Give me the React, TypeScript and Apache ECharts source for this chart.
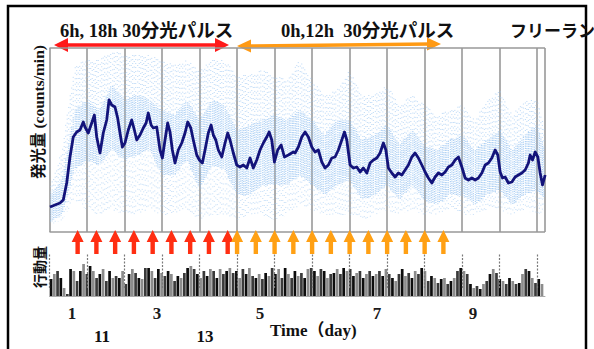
import React, { useEffect, useRef } from "react";
import * as echarts from "echarts";

// ---- Luminescence: smoothed trace (hours, relative counts) ----
const lineHours = [0.3, 3.5, 6.7, 8.8, 11, 13.1, 15.2, 17.4, 19.5, 21.6, 22.7, 24.8, 27, 28.7, 30.2, 32.3, 34.4, 36.6, 38.1, 39.8, 41.9, 43.6, 45.1, 46.6, 48.3, 50.4, 52.6, 54.3, 55.8, 57.9, 60, 61.8, 63.2, 65, 66.4, 68.6, 70.7, 72.2, 73.9, 75.6, 77.1, 78.6, 80.3, 82.4, 84.6, 86.7, 88.4, 90.4, 92, 94.2, 95.9, 97.8, 99.5, 101.6, 103.4, 104.8, 106.4, 108, 110.2, 112.3, 114, 115.5, 117.6, 119.8, 121.9, 124, 126.2, 128.3, 130.4, 132.6, 134.7, 136.8, 139, 140.5, 142.2, 143.9, 146, 148.2, 150.3, 152.8, 156];
const lineValues = [25, 27, 29, 32, 49, 75, 95, 100, 102, 110, 105, 99, 109, 117, 95, 79, 99, 112, 132, 127, 125, 114, 99, 85, 89, 102, 112, 102, 92, 97, 104, 109, 119, 107, 104, 105, 82, 74, 92, 109, 100, 82, 69, 82, 89, 99, 110, 104, 92, 77, 72, 69, 82, 99, 107, 97, 92, 82, 75, 89, 99, 92, 79, 67, 65, 67, 64, 74, 64, 72, 82, 89, 95, 100, 92, 70, 82, 87, 75, 77, 80];
const lineHours2 = [157.1, 159.2, 161.4, 163.5, 165.6, 167.8, 169.9, 172, 174.2, 176.3, 178.4, 180.6, 182.7, 184.8, 187, 188.7, 190.2, 192.3, 194.4, 196.6, 198.7, 200.8, 203, 205.1, 207.2, 209.4, 211.5, 213.6, 215.2, 216.8, 219, 221.1, 223.2, 225.4, 227.5, 229.6, 231.8, 233.9, 236, 238.2, 240.3, 242.4, 244.6, 246.7, 248.8, 251, 253.1, 255.2, 257.4, 259.5, 261.6, 263.8, 265.9, 268, 270.2, 272.3, 274.4, 276.6, 278.7, 280.8, 283, 285.1, 286.8, 288.3, 289.8, 291.5, 293.6, 295.8, 297.9, 300, 302.2, 304.3, 306.4, 307.5, 309, 310.7, 312.4, 313.9, 315.4, 317.1];
const lineValues2 = [79, 85, 95, 100, 95, 85, 80, 82, 70, 64, 67, 74, 75, 82, 92, 100, 92, 67, 64, 65, 60, 64, 59, 69, 72, 74, 79, 89, 82, 64, 59, 55, 59, 57, 62, 67, 75, 79, 74, 67, 60, 54, 49, 55, 59, 57, 60, 65, 67, 72, 75, 65, 54, 52, 54, 52, 54, 59, 67, 69, 74, 82, 77, 60, 54, 55, 49, 50, 55, 57, 59, 62, 69, 77, 72, 80, 75, 59, 47, 57];

// ---- Luminescence: raw-data cloud envelope, every 8 h ----
const cloudHours = [0, 8, 16, 24, 32, 40, 48, 56, 64, 72, 80, 88, 96, 104, 112, 120, 128, 136, 144, 152, 160, 168, 176, 184, 192, 200, 208, 216, 224, 232, 240, 248, 256, 264, 272, 280, 288, 296, 304, 312, 317];
const cloudDenseLow = [10, 17, 62, 72, 67, 82, 72, 77, 82, 57, 57, 72, 42, 67, 62, 37, 37, 47, 47, 47, 57, 47, 37, 47, 52, 32, 37, 47, 32, 47, 32, 27, 37, 37, 27, 37, 42, 27, 37, 42, 32];
const cloudDenseHigh = [37, 52, 122, 132, 122, 147, 132, 137, 132, 122, 117, 132, 112, 132, 127, 102, 107, 112, 117, 112, 122, 112, 97, 112, 112, 92, 97, 107, 87, 102, 87, 82, 92, 97, 82, 92, 102, 82, 97, 107, 82];
const cloudSparseLow = [7, 12, 32, 22, 17, 22, 17, 17, 22, 17, 17, 22, 12, 17, 17, 12, 17, 17, 12, 17, 27, 22, 17, 17, 17, 12, 17, 22, 17, 22, 17, 17, 22, 17, 17, 22, 22, 17, 22, 17, 22];
const cloudSparseHigh = [42, 82, 167, 172, 172, 182, 177, 177, 177, 172, 167, 172, 162, 172, 172, 157, 157, 162, 157, 152, 172, 152, 137, 142, 162, 137, 137, 147, 127, 137, 127, 117, 122, 127, 112, 132, 142, 117, 132, 132, 102];

// ---- Activity counts (bins from hour 1, every 2.08 h) ----
const activityA = [17, 22, 25, 18, 8, 2, 27, 25, 15, 25, 32, 22, 30, 25, 18, 22, 27, 15, 25, 18, 20, 18, 25, 12, 22, 27, 23, 18, 17, 28, 28, 25, 18, 27, 23, 20, 25, 22, 15, 20, 18, 23, 28, 30, 27, 22, 18, 25, 20];
const activityB = [27, 25, 18, 27, 22, 25, 28, 23, 25, 18, 27, 22, 28, 20, 18, 22, 17, 23, 20, 28, 22, 27, 18, 28, 22, 18, 25, 20, 23, 18, 27, 28, 25, 20, 27, 25, 18, 22, 23, 27, 22, 28, 25, 27, 20, 23, 25, 18, 22, 25, 20];
const activityC = [22, 25, 20, 27, 22, 18, 15, 22, 27, 20, 23, 18, 25, 22, 28, 25, 15, 20, 18, 13, 17, 18, 12, 15, 18, 25, 28, 25, 22, 12, 8, 10, 7, 12, 15, 22, 27, 23, 17, 15, 12, 18, 15, 12, 13, 22, 27, 25, 18, 13, 17, 12];
const activityStartHour = 1;
const activityStepHours = 2.08;

// ---- Light pulses (hours) ----
const redPulseHours = [18, 30, 42, 54, 66, 78, 90, 102, 114];
const orangePulseHours = [120, 132, 144, 156, 168, 180, 192, 204, 216, 228, 240, 252];

// ---- Day boundaries & labels ----
const dayLineHours = [0, 24, 48, 72, 96, 120, 144, 168, 192, 216, 240, 264, 288, 312];
const smallHourLabels = ["24", "48", "72", "96", "120"];
const tickHours = [14.4, 68.8, 134.7, 209.6, 271];
const tickLabels = ["1", "3", "5", "7", "9"];

const SERIF = '"Liberation Serif", "DejaVu Serif", "Noto Sans CJK JP", serif';
const X_MAX = 317;

export default function App() {
  const ref = useRef<HTMLDivElement>(null);
  useEffect(() => {
    if (!ref.current) return;
    const chart = echarts.init(ref.current, undefined, { renderer: "svg" });

    const activity = [...activityA, ...activityB, ...activityC].map((v, i) => [
      activityStartHour + i * activityStepHours,
      v,
    ]);
    // each item = segment between two consecutive envelope readings
    const cloud = cloudHours.slice(0, -1).map((h, i) => [
      h,
      cloudHours[i + 1],
      cloudDenseLow[i],
      cloudDenseHigh[i],
      cloudSparseLow[i],
      cloudSparseHigh[i],
      cloudDenseLow[i + 1],
      cloudDenseHigh[i + 1],
      cloudSparseLow[i + 1],
      cloudSparseHigh[i + 1],
    ]);
    const trace = [
      ...lineHours.map((h, i) => [h, lineValues[i]]),
      ...lineHours2.map((h, i) => [h, lineValues2[i]]),
    ];

    const arrowPath = "path://M6,0 L12,12 L8.2,12 L8.2,24 L3.8,24 L3.8,12 L0,12 Z";

    const option: any = {
      animation: false,
      grid: [
        { left: 49.5, top: 48, width: 495.5, height: 184 },
        { left: 49.5, top: 228, width: 495.5, height: 68 },
      ],
      xAxis: [
        {
          type: "value",
          gridIndex: 0,
          min: 0,
          max: X_MAX,
          interval: 24,
          axisLine: { show: false },
          axisTick: { show: false },
          axisLabel: { show: false },
          splitLine: { show: true, lineStyle: { color: "#999", width: 1.6 } },
        },
        {
          type: "value",
          gridIndex: 1,
          min: 0,
          max: X_MAX,
          axisLine: { show: true, lineStyle: { color: "#aaa", width: 1 } },
          axisTick: { show: false },
          splitLine: { show: false },
          axisLabel: {
            customValues: tickHours,
            formatter: (v: number) => {
              const i = tickHours.findIndex((t) => Math.abs(t - v) < 0.01);
              return i >= 0 ? tickLabels[i] : "";
            },
            margin: 9,
            fontSize: 17,
            fontWeight: "bold",
            fontFamily: SERIF,
            color: "#1a1a1a",
          },
        },
      ],
      yAxis: [
        {
          type: "value",
          gridIndex: 0,
          min: 0,
          max: 184,
          interval: 184,
          axisLine: { show: false },
          axisTick: { show: false },
          axisLabel: { show: false },
          splitLine: { show: true, lineStyle: { color: "#999", width: 1.6 } },
        },
        {
          type: "value",
          gridIndex: 1,
          min: 0,
          max: 68,
          show: false,
          splitLine: { show: false },
        },
      ],
      series: [
        {
          type: "custom",
          xAxisIndex: 0,
          yAxisIndex: 0,
          data: cloud,
          silent: true,
          renderItem: (params: any, api: any) => {
            const hA = api.value(0);
            const hB = api.value(1);
            const vA = [api.value(2), api.value(3), api.value(4), api.value(5)];
            const vB = [api.value(6), api.value(7), api.value(8), api.value(9)];
            const cs = params.coordSys;
            const pA = api.coord([hA, vA[0]]);
            const pB = api.coord([hB, vB[0]]);
            const xa = pA[0];
            const xb = Math.min(cs.x + cs.width, pB[0]);
            const span = pB[0] - xa;
            const yOf = (j: number, x: number) => {
              const t = span > 0 ? (x - xa) / span : 0;
              const v = vA[j] + (vB[j] - vA[j]) * t;
              return api.coord([hA, v])[1];
            };
            const children: any[] = [];
            let k = 0;
            for (let x = Math.max(cs.x + 1.2, xa + 0.7); x < xb; x += 1.5, k++) {
              const dLo = yOf(0, x);
              const dHi = yOf(1, x);
              const sLo = yOf(2, x);
              const sHi = yOf(3, x);
              // decorrelated dash phases to give a speckled (not striped) texture
              const ph = ((k * 37 + params.dataIndex * 17) % 13) / 13;
              children.push({
                type: "line",
                shape: { x1: x, y1: dHi, x2: x, y2: dLo },
                style: {
                  stroke: "#92c0f0",
                  lineWidth: 1.1,
                  lineDash: [1.2, 1.1],
                  lineDashOffset: ph * 2.3 - dHi,
                  opacity: 0.8,
                },
              });
              children.push({
                type: "line",
                shape: { x1: x, y1: sHi, x2: x, y2: dHi },
                style: {
                  stroke: "#9ec8f2",
                  lineWidth: 1,
                  lineDash: [1, k % 2 ? 3 : 4.5],
                  lineDashOffset: ph * 5,
                  opacity: 0.7,
                },
              });
              children.push({
                type: "line",
                shape: { x1: x, y1: dLo, x2: x, y2: sLo },
                style: {
                  stroke: "#9ec8f2",
                  lineWidth: 1,
                  lineDash: [1, k % 2 ? 4 : 6],
                  lineDashOffset: ph * 6,
                  opacity: 0.6,
                },
              });
            }
            return { type: "group", children };
          },
        },
        {
          type: "line",
          xAxisIndex: 0,
          yAxisIndex: 0,
          data: trace,
          showSymbol: false,
          lineStyle: { color: "#13137a", width: 2.8, join: "round" },
          silent: true,
        },
        {
          type: "bar",
          xAxisIndex: 1,
          yAxisIndex: 1,
          data: activity,
          barWidth: 2.7,
          silent: true,
          itemStyle: {
            color: (p: any) => (p.dataIndex % 3 === 1 ? "#8c8c8c" : p.dataIndex % 3 === 2 ? "#3a3a3a" : "#0d0d0d"),
          },
          markLine: {
            symbol: "none",
            silent: true,
            label: { show: false },
            lineStyle: { color: "#7a7a7a", width: 1.2, type: [2, 1.5] },
            data: dayLineHours.map((h) => [{ coord: [h, 8] }, { coord: [h, 43] }]),
          },
        },
        {
          type: "scatter",
          xAxisIndex: 1,
          yAxisIndex: 1,
          clip: false,
          silent: true,
          symbol: "none",
          data: smallHourLabels.map((t, i) => [dayLineHours[i], 53, t]),
          label: {
            show: true,
            position: "inside",
            formatter: (p: any) => p.value[2],
            fontSize: 5,
            color: "#777",
          },
        },
        {
          type: "scatter",
          xAxisIndex: 1,
          yAxisIndex: 1,
          clip: false,
          silent: true,
          symbol: arrowPath,
          symbolSize: [12, 24],
          data: redPulseHours.map((h) => [h, 54]),
          itemStyle: { color: "#ff2e12", opacity: 1 },
          z: 5,
        },
        {
          type: "scatter",
          xAxisIndex: 1,
          yAxisIndex: 1,
          clip: false,
          silent: true,
          symbol: arrowPath,
          symbolSize: [12, 24],
          data: orangePulseHours.map((h) => [h, 54]),
          itemStyle: { color: "#ffa014", opacity: 1 },
          z: 5,
        },
      ],
      graphic: [
        {
          type: "rect",
          shape: { x: 8, y: 6, width: 578, height: 360 },
          style: { fill: "none", stroke: "#000", lineWidth: 2.5 },
          silent: true,
        },
        // red double arrow
        {
          type: "polyline",
          shape: { points: [[64, 45], [219, 45]] },
          style: { stroke: "#ff1a1a", lineWidth: 3.5, fill: "none" },
        },
        { type: "polygon", shape: { points: [[54, 45], [68, 38], [68, 52]] }, style: { fill: "#ff1a1a" } },
        { type: "polygon", shape: { points: [[229, 45], [215, 38], [215, 52]] }, style: { fill: "#ff1a1a" } },
        // orange double arrow
        {
          type: "polyline",
          shape: { points: [[248, 46], [430, 44]] },
          style: { stroke: "#ff9a14", lineWidth: 3.5, fill: "none" },
        },
        { type: "polygon", shape: { points: [[237, 46], [251, 39.5], [251, 52.5]] }, style: { fill: "#ff9a14" } },
        { type: "polygon", shape: { points: [[441, 44], [427, 37.5], [427, 50.5]] }, style: { fill: "#ff9a14" } },
        // titles
        {
          type: "text",
          x: 60,
          y: 31,
          style: { text: "6h, 18h 30分光パルス", fontSize: 18.5, fontWeight: "bold", fontFamily: SERIF, fill: "#111", align: "left", verticalAlign: "middle" },
        },
        {
          type: "text",
          x: 281,
          y: 31,
          style: { text: "0h,12h  30分光パルス", fontSize: 18.5, fontWeight: "bold", fontFamily: SERIF, fill: "#111", align: "left", verticalAlign: "middle" },
        },
        {
          type: "text",
          x: 510,
          y: 31,
          style: { text: "フリーラン", fontSize: 17, fontWeight: "bold", fontFamily: SERIF, fill: "#111", align: "left", verticalAlign: "middle" },
        },
        // y-axis names
        {
          type: "text",
          x: 38,
          y: 112,
          rotation: Math.PI / 2,
          style: { text: "発光量 (counts/min)", fontSize: 15.5, fontWeight: "bold", fontFamily: SERIF, fill: "#111", align: "center", verticalAlign: "middle" },
        },
        {
          type: "text",
          x: 40,
          y: 267,
          rotation: Math.PI / 2,
          style: { text: "行動量", fontSize: 14, fontWeight: "bold", fontFamily: SERIF, fill: "#111", align: "center", verticalAlign: "middle" },
        },
        // bottom texts
        {
          type: "text",
          x: 270,
          y: 330,
          style: { text: "Time（day)", fontSize: 17, fontWeight: "bold", fontFamily: SERIF, fill: "#111", align: "left", verticalAlign: "middle" },
        },
        {
          type: "text",
          x: 102,
          y: 336,
          style: { text: "11", fontSize: 17, fontWeight: "bold", fontFamily: SERIF, fill: "#111", align: "center", verticalAlign: "middle" },
        },
        {
          type: "text",
          x: 205,
          y: 336,
          style: { text: "13", fontSize: 17, fontWeight: "bold", fontFamily: SERIF, fill: "#111", align: "center", verticalAlign: "middle" },
        },
      ],
    };
    chart.setOption(option);
    return () => chart.dispose();
  }, []);

  return (
    <div
      ref={ref}
      style={{ position: "fixed", left: 0, top: 0, width: 594, height: 349, background: "#fff" }}
    />
  );
}
